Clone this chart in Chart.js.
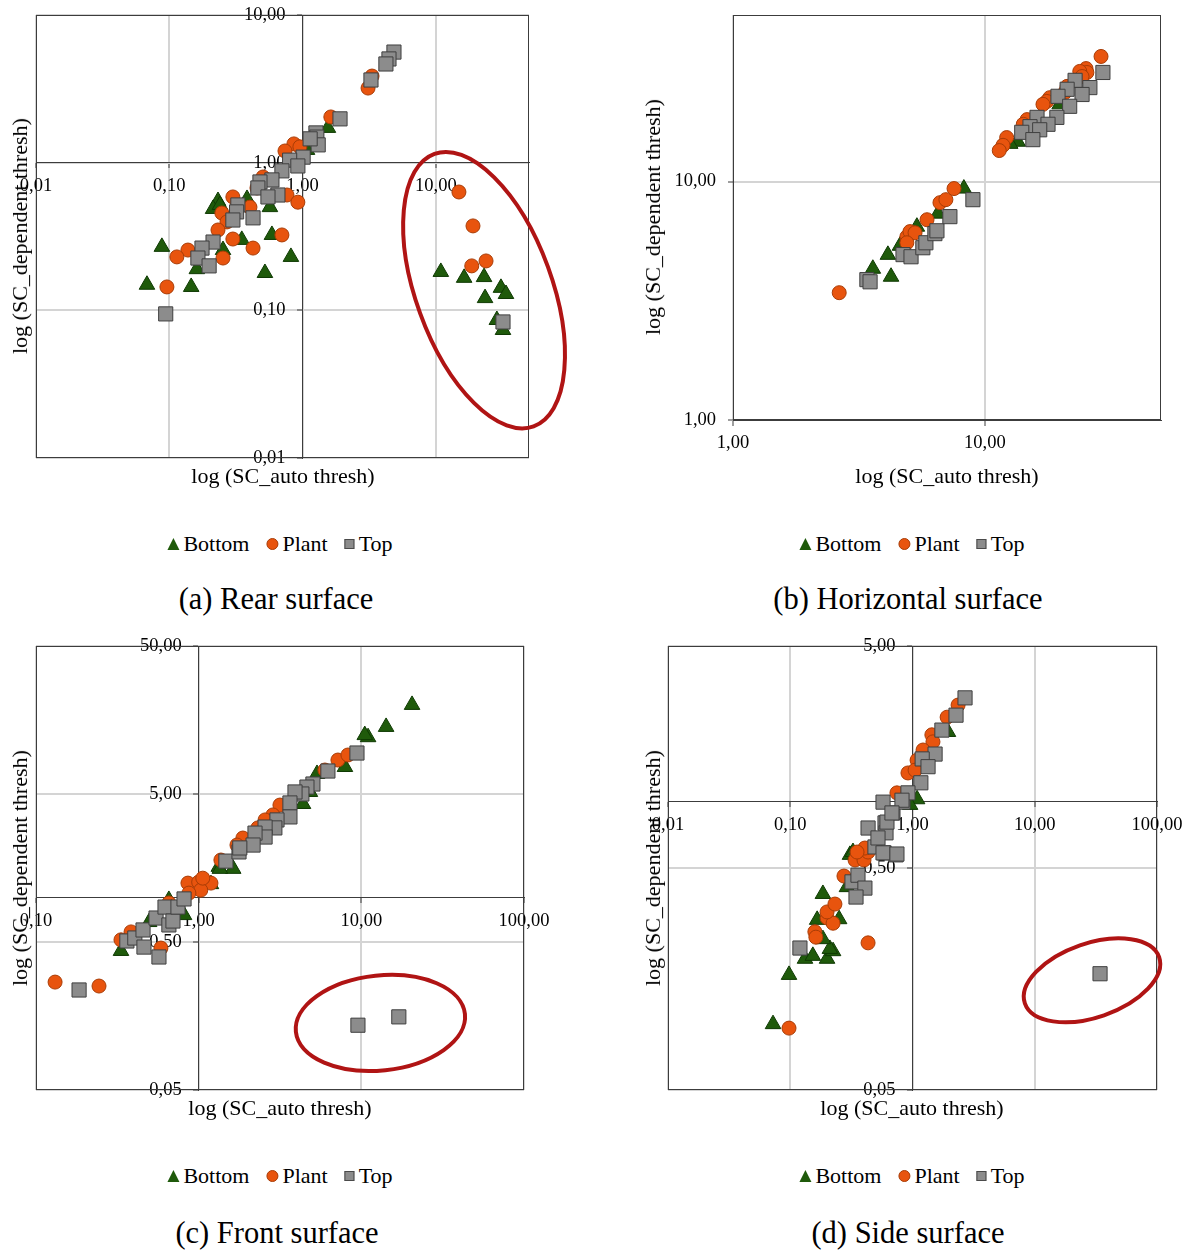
<!DOCTYPE html>
<html>
<head>
<meta charset="utf-8">
<script src="https://cdn.jsdelivr.net/npm/chart.js@4.4.1/dist/chart.umd.min.js"></script>
<style>
  html, body { margin: 0; padding: 0; background: #fff; overflow: hidden; }
  #page { position: relative; width: 1189px; height: 1250px; overflow: hidden; font-family: 'Liberation Serif', 'Times New Roman', serif; color: #000; }
  canvas { position: absolute; }
  .t { position: absolute; white-space: nowrap; transform: translate(-50%, -50%); }
  .xt { font-size: 22px; }
  .yt { font-size: 22px; transform: translate(-50%, -50%) rotate(-90deg); }
  .cap { font-size: 30.5px; }
  .leg { font-size: 22px; display: flex; align-items: center; }
  .leg i { display: inline-block; margin-right: 4px; }
  .leg span { margin-right: 17px; }
  .leg span:last-child { margin-right: 0; }
  .tri { width: 0; height: 0; border-left: 6px solid transparent; border-right: 6px solid transparent; border-bottom: 12px solid #1f5a0b; }
  .dot { width: 12px; height: 12px; border-radius: 50%; background: #e8540e; box-sizing: border-box; border: 1px solid #a83c06; }
  .sq { width: 10px; height: 10px; background: #8c8c8c; box-sizing: border-box; border: 1px solid #4a4a4a; }
</style>
</head>
<body>
<div id="page"></div>
<script>
// ---- data: [x, y] pairs ----
const rearBottom = [[1.55,1.72],[0.383,0.568],[0.232,0.55],[0.213,0.486],[0.24,0.517],[0.35,0.30],[0.589,0.324],
  [0.253,0.256],[0.088,0.269],[0.818,0.23],[0.522,0.179],[0.068,0.149],[0.146,0.144],[0.569,0.50],[0.161,0.19],
  [1.08,1.22],[10.9,0.182],[16.3,0.166],[23.0,0.168],[30.8,0.142],[33.6,0.129],[23.4,0.121],[28.7,0.086],[31.9,0.0736]];
const rearPlant = [[3.32,3.86],[3.10,3.20],[1.63,2.04],[0.861,1.34],[0.738,1.20],[0.955,1.28],[0.505,0.80],[0.455,0.674],
  [0.764,0.604],[0.922,0.54],[0.30,0.586],[0.403,0.50],[0.248,0.456],[0.271,0.397],[0.232,0.35],[0.30,0.304],
  [0.425,0.264],[0.70,0.324],[0.138,0.256],[0.114,0.23],[0.253,0.226],[0.096,0.144],
  [14.9,0.633],[19.0,0.373],[18.6,0.20],[23.8,0.216]];
const rearTop = [[4.85,5.61],[4.45,5.04],[4.22,4.66],[3.26,3.63],[1.91,1.98],[1.26,1.59],[1.28,1.49],[1.31,1.32],
  [1.14,1.45],[1.01,1.09],[0.80,1.04],[0.922,0.95],[0.70,0.88],[0.589,0.764],[0.479,0.74],[0.462,0.674],[0.653,0.604],
  [0.55,0.586],[0.327,0.517],[0.32,0.464],[0.30,0.409],[0.425,0.423],[0.213,0.29],[0.176,0.264],[0.164,0.226],
  [0.199,0.20],[0.094,0.0946],[31.9,0.0834]];

const horizBottom = [[3.59,4.31],[4.12,4.93],[4.24,3.99],[5.37,6.47],[8.25,9.35],[4.60,5.38],[6.51,7.34],
  [13.5,14.7],[12.6,14.4],[19.8,21.1]];
const horizPlant = [[2.64,3.42],[4.90,5.87],[5.04,6.17],[5.28,6.10],[4.90,5.54],[5.89,6.92],[6.63,8.16],[7.0,8.40],
  [7.54,9.35],[28.9,33.5],[25.2,29.8],[25.4,28.7],[23.8,29.0],[24.3,27.6],[18.1,22.5],[17.6,21.7],[17.0,21.1],
  [12.2,15.3],[11.8,14.2],[11.4,13.5],[14.7,18.2],[14.2,17.4],[21.2,25.1],[20.8,23.7]];
const horizTop = [[3.40,3.88],[3.50,3.80],[4.73,4.94],[5.09,4.84],[5.67,5.28],[5.83,5.54],[6.33,6.05],[6.45,6.22],
  [7.26,7.13],[8.96,8.40],[29.4,28.7],[22.8,26.6],[26.1,24.8],[24.3,23.2],[21.2,24.4],[19.5,22.8],[21.7,20.7],
  [19.3,18.6],[16.1,18.6],[17.8,17.4],[15.1,17.0],[14.0,16.1],[16.5,16.5],[15.5,15.0]];

const frontBottom = [[0.333,0.435],[0.496,0.682],[0.656,0.962],[0.813,0.76],[1.33,1.61],[1.63,1.56],[1.19,1.23],
  [20.5,20.0],[14.2,14.2],[11.0,12.1],[10.5,12.5],[7.93,7.61],[5.34,6.83],[4.38,4.28],[4.83,5.16],[1.35,1.56]];
const frontPlant = [[0.131,0.268],[0.244,0.252],[0.859,1.25],[1.0,1.27],[1.19,1.25],[1.03,1.12],[0.871,1.07],
  [1.37,1.79],[0.384,0.585],[0.333,0.517],[0.586,0.455],[0.656,0.918],[7.18,8.48],[8.27,9.17],[5.97,7.26],
  [3.16,4.21],[2.86,3.61],[2.56,3.34],[2.31,2.95],[1.87,2.52],[1.72,2.26],[1.06,1.35]];
const frontTop = [[0.184,0.237],[0.57,0.396],[0.362,0.508],[0.405,0.532],[0.455,0.603],[0.461,0.462],[0.547,0.726],
  [0.621,0.861],[0.656,0.652],[0.695,0.693],[0.746,0.861],[0.813,0.977],[1.47,1.76],[1.77,2.03],[9.40,9.46],
  [6.23,7.15],[5.04,5.84],[4.63,5.57],[4.31,5.0],[3.91,5.16],[3.64,4.35],[3.64,3.50],[3.03,3.34],[2.94,2.95],
  [2.56,2.99],[2.56,2.56],[2.22,2.72],[2.16,2.26],[1.79,2.16],[9.53,0.137],[17.0,0.156]];

const sideBottom = [[0.0723,0.099],[0.0977,0.165],[0.132,0.195],[0.153,0.201],[0.20,0.195],[0.224,0.211],
  [0.211,0.216],[0.166,0.292],[0.185,0.382],[0.251,0.294],[0.308,0.573],[0.291,0.41],[0.185,0.239],
  [1.09,1.02],[0.955,0.962],[1.95,2.05],[0.326,0.59]];
const sidePlant = [[0.0977,0.095],[0.433,0.23],[0.159,0.258],[0.162,0.244],[0.20,0.298],[0.224,0.282],[0.20,0.317],
  [0.232,0.344],[0.275,0.46],[0.339,0.543],[0.401,0.543],[0.433,0.59],[2.36,2.71],[1.92,2.39],[1.44,1.99],
  [1.47,1.85],[1.22,1.70],[1.09,1.53],[0.918,1.34],[1.05,1.38],[0.746,1.09],[0.408,0.615],[0.352,0.59]];
const sideTop = [[0.12,0.218],[0.32,0.433],[0.358,0.464],[0.408,0.406],[0.345,0.37],[0.433,0.757],[0.596,0.798],
  [0.493,0.622],[0.585,0.585],[0.733,0.573],[0.607,0.72],[0.692,0.885],[0.574,0.99],[0.836,0.99],[2.69,2.92],
  [2.27,2.44],[1.74,2.09],[1.53,1.63],[1.20,1.55],[1.34,1.43],[1.17,1.21],[0.918,1.09],[0.82,1.01],[0.618,0.805],
  [0.522,0.683],[0.574,0.585],[0.746,0.578],[0.679,0.885],[34.2,0.167]];

// tick values (Excel log axes)
const rearTicks = [0.01, 0.1, 1, 10];
const horizTicks = [1, 10];
const frontXTicks = [0.1, 1, 10, 100];
const frontYTicks = [0.05, 0.5, 5, 50];
const sideXTicks = [0.01, 0.1, 1, 10, 100];
const sideYTicks = [0.05, 0.5, 5];

const seriesNames = ['Bottom', 'Plant', 'Top'];
const xLabel = 'log (SC_auto thresh)';
const yLabel = 'log (SC_dependent thresh)';

const GREEN = '#1f5a0b', ORANGE = '#e8540e', GRAY = '#8c8c8c';

const panels = [
  { canvas: [0, -4, 600, 500], pad: { left: 36, top: 19, right: 71, bottom: 38 },
    x: [0.01, 50], y: [0.01, 10], xTicks: rearTicks, yTicks: rearTicks,
    series: [rearBottom, rearPlant, rearTop],
    ring: { x: 23.0, y: 0.137, rx: 68, ry: 145, rot: -20 },
    xTitle: [283, 476], yTitle: [20, 236], legend: [280, 544], caption: [276, 599], text: '(a) Rear surface' },
  { canvas: [600, -4, 589, 500], pad: { left: 133, top: 19, right: 28, bottom: 76 },
    x: [1, 50], y: [1, 50], xTicks: horizTicks, yTicks: horizTicks,
    series: [horizBottom, horizPlant, horizTop],
    xTitle: [947, 476], yTitle: [653, 217], legend: [912, 544], caption: [908, 599], text: '(b) Horizontal surface' },
  { canvas: [0, 627, 600, 500], pad: { left: 36, top: 19, right: 76, bottom: 37 },
    x: [0.1, 100], y: [0.05, 50], xTicks: frontXTicks, yTicks: frontYTicks,
    series: [frontBottom, frontPlant, frontTop],
    ring: { x: 13.1, y: 0.142, rx: 85, ry: 47.5, rot: -6 },
    xTitle: [280, 1108], yTitle: [20, 868], legend: [280, 1176], caption: [277, 1233], text: '(c) Front surface' },
  { canvas: [600, 627, 620, 500], pad: { left: 68, top: 19, right: 63, bottom: 37 },
    x: [0.01, 100], y: [0.05, 5], xTicks: sideXTicks, yTicks: sideYTicks,
    series: [sideBottom, sidePlant, sideTop],
    ring: { x: 29.4, y: 0.156, rx: 71, ry: 37, rot: -19 },
    xTitle: [912, 1108], yTitle: [653, 868], legend: [912, 1176], caption: [908, 1233], text: '(d) Side surface' }
];

// plot frame + red highlight ellipse
const framePlugin = {
  id: 'frame',
  afterLayout(chart, args, opts) {
    // labels of an axis placed at a value sit flush on the line; push them left like Excel does
    const s = chart.scales.y;
    s.getLabelItems(chart.chartArea).forEach(item => { item.options.translation[0] -= opts.yGap; });
  },
  beforeDatasetsDraw(chart) {
    const { ctx, chartArea: a } = chart;
    ctx.save();
    ctx.strokeStyle = '#3c3c3c';
    ctx.lineWidth = 1;
    ctx.strokeRect(Math.round(a.left) + 0.5, Math.round(a.top) + 0.5, Math.round(a.width) - 1, Math.round(a.height) - 1);
    ctx.restore();
  },
  afterDatasetsDraw(chart, args, opts) {
    const ring = opts.ring;
    if (!ring) return;
    const { ctx } = chart;
    const cx = chart.scales.x.getPixelForValue(ring.x);
    const cy = chart.scales.y.getPixelForValue(ring.y);
    ctx.save();
    ctx.strokeStyle = '#b01414';
    ctx.lineWidth = 4;
    ctx.beginPath();
    ctx.ellipse(cx, cy, ring.rx, ring.ry, ring.rot * Math.PI / 180, 0, Math.PI * 2);
    ctx.stroke();
    ctx.restore();
  }
};

const fmt = v => Number(v).toFixed(2).replace('.', ',');

function axis(range, ticks, pos) {
  return {
    type: 'logarithmic',
    min: range[0],
    max: range[1],
    position: pos,
    afterBuildTicks: s => { s.ticks = ticks.map(v => ({ value: v })); },
    grid: { color: '#d4d4d4', lineWidth: 2, drawTicks: true, tickLength: 5, tickColor: '#3c3c3c', tickWidth: 1 },
    border: { display: true, color: '#3c3c3c', width: 1 },
    ticks: {
      autoSkip: false, maxRotation: 0, padding: 7.5, color: '#000',
      font: { family: "'Liberation Serif', 'Times New Roman', serif", size: 18.5 },
      callback: v => fmt(v)
    }
  };
}

const page = document.getElementById('page');

function addText(cls, pos, html) {
  const d = document.createElement('div');
  d.className = 't ' + cls;
  d.style.left = pos[0] + 'px';
  d.style.top = pos[1] + 'px';
  d.innerHTML = html;
  page.appendChild(d);
}

panels.forEach(p => {
  const cv = document.createElement('canvas');
  cv.width = p.canvas[2];
  cv.height = p.canvas[3];
  cv.style.left = p.canvas[0] + 'px';
  cv.style.top = p.canvas[1] + 'px';
  cv.style.width = p.canvas[2] + 'px';
  cv.style.height = p.canvas[3] + 'px';
  page.appendChild(cv);

  const styles = [
    { pointStyle: 'triangle', pointRadius: 9, backgroundColor: GREEN, borderColor: '#0f3a03', order: 3 },
    { pointStyle: 'circle', pointRadius: 7, backgroundColor: ORANGE, borderColor: '#a83c06', order: 2 },
    { pointStyle: 'rect', pointRadius: 10, backgroundColor: GRAY, borderColor: '#3f3f3f', order: 1 }
  ];

  new Chart(cv, {
    type: 'scatter',
    data: {
      datasets: p.series.map((s, i) => Object.assign({
        label: seriesNames[i],
        data: s.map(([x, y]) => ({ x, y })),
        borderWidth: 1
      }, styles[i]))
    },
    options: {
      responsive: false,
      animation: false,
      devicePixelRatio: 1,
      layout: { padding: p.pad },
      plugins: {
        legend: { display: false },
        tooltip: { enabled: false },
        frame: { ring: p.ring, yGap: 17 }
      },
      scales: {
        x: axis(p.x, p.xTicks, { y: 1 }),
        y: axis(p.y, p.yTicks, { x: 1 })
      }
    },
    plugins: [framePlugin]
  });

  addText('xt', p.xTitle, xLabel);
  addText('yt', p.yTitle, yLabel);
  addText('leg', p.legend,
    '<i class="tri"></i><span>' + seriesNames[0] + '</span>' +
    '<i class="dot"></i><span>' + seriesNames[1] + '</span>' +
    '<i class="sq"></i><span>' + seriesNames[2] + '</span>');
  addText('cap', p.caption, p.text);
});
</script>
</body>
</html>
